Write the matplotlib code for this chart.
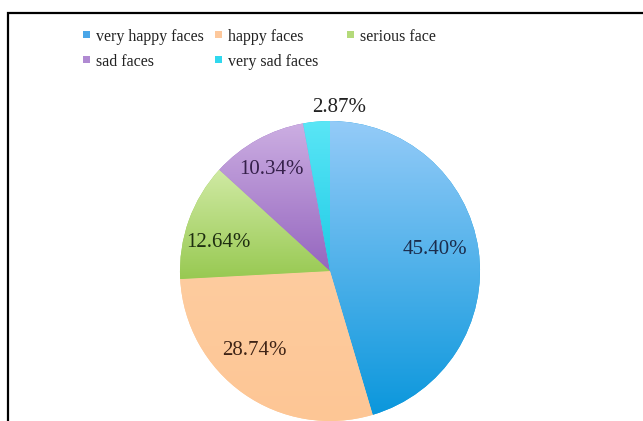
import matplotlib.pyplot as plt
import numpy as np
from matplotlib.colors import LinearSegmentedColormap
from matplotlib.patches import Rectangle

plt.rcParams['font.family'] = ['Liberation Serif', 'DejaVu Serif']

labels = ['very happy faces', 'happy faces', 'serious face', 'sad faces', 'very sad faces']
shares = [45.40, 28.74, 12.64, 10.34, 2.87]

# top / bottom colours of each slice gradient, plus label colour
tops = ['#94cbf8', '#fecc9f', '#d0eaa4', '#ccaee2', '#5ae6f6']
bottoms = ['#0b97dc', '#fdc695', '#98c952', '#9566bf', '#1fcbe6']
text_colors = ['#1b2c4c', '#3f2416', '#1e2e10', '#35204a', '#222222']
legend_colors = ['#4aa6e8', '#fdc89c', '#b4da7a', '#b08ad2', '#30d8ee']

# label placement: fraction of radius and small angular nudge (deg)
label_r = [0.715, 0.735, 0.77, 0.78, 1.09]
label_nudge = [3.5, -8.3, 5.2, 0.9, -8.4]

W, H = 643, 421
fig = plt.figure(figsize=(W / 100, H / 100), dpi=100)
ax = fig.add_axes([0, 0, 1, 1])

cx, cy, R = 330, H - 271, 150
wedges, _ = ax.pie(shares, startangle=90, counterclock=False,
                   center=(cx, cy), radius=R, frame=True,
                   wedgeprops=dict(linewidth=0))

grad = np.linspace(0, 1, 256).reshape(-1, 1)
for w, c0, c1 in zip(wedges, tops, bottoms):
    w.set_facecolor(c1)
    ext = w.get_path().get_extents()
    cmap = LinearSegmentedColormap.from_list('g', [c0, c1])
    im = ax.imshow(grad, cmap=cmap, aspect='auto', origin='upper',
                   extent=(ext.x0, ext.x1, ext.y0, ext.y1), zorder=w.get_zorder() + 0.1)
    im.set_clip_path(w)

ax.set_xlim(0, W)
ax.set_ylim(0, H)
ax.set_aspect('equal')
ax.axis('off')

for w, val, rf, dn, tc in zip(wedges, shares, label_r, label_nudge, text_colors):
    mid = np.deg2rad((w.theta1 + w.theta2) / 2 + dn)
    ax.text(cx + rf * R * np.cos(mid), cy + rf * R * np.sin(mid), f'{val:.2f}%',
            ha='center', va='center', fontsize=15, color=tc, zorder=5)

# legend: three fixed-width columns, filled row by row
for i, (lab, col) in enumerate(zip(labels, legend_colors)):
    row, c = divmod(i, 3)
    x = 86 + c * 132
    y = H - (37 + row * 25)
    ax.add_patch(Rectangle((x - 3.5, y - 1), 7, 7, facecolor=col, edgecolor='none'))
    ax.text(x + 10, y, lab, ha='left', va='center', fontsize=11.5, color='#222222')

fig.patches.append(Rectangle((8, -10), W, H - 13 + 10, transform=None,
                             fill=False, edgecolor='black', linewidth=1.6))

fig.savefig('out.png', dpi=100)
